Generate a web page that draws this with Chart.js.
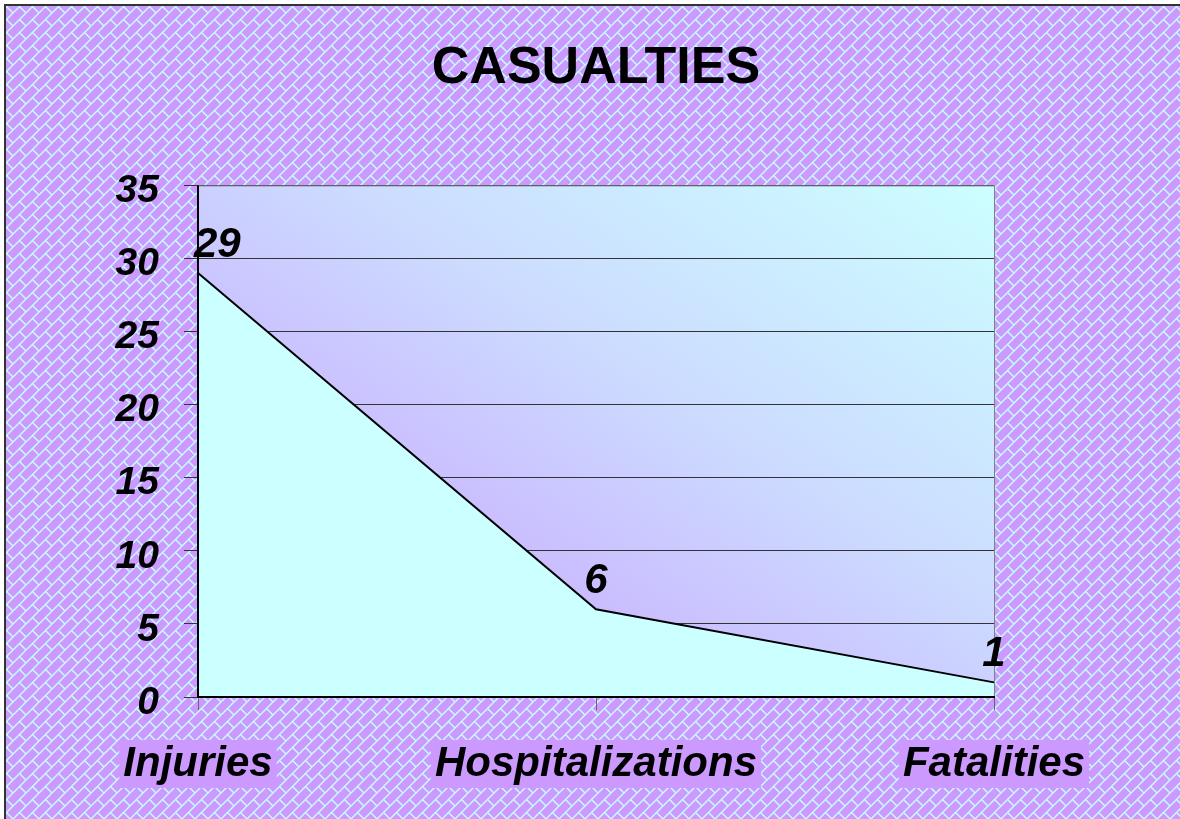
<!DOCTYPE html>
<html>
<head>
<meta charset="utf-8">
<title>Casualties</title>
<script src="https://cdn.jsdelivr.net/npm/chart.js@4/dist/chart.umd.min.js"></script>
<style>
  html, body { margin: 0; padding: 0; background: #fff; }
  #wrap { width: 1180px; height: 819px; }
</style>
</head>
<body>
<div id="wrap"><canvas id="casualtiesChart" width="1180" height="819"></canvas></div>
<script>
// data
const categorias = ['Injuries', 'Hospitalizations', 'Fatalities'];
const valores = [29, 6, 1];
const yMin = 0;
const yMax = 35;
const yStep = 5;
const titulo = 'CASUALTIES';

const fonte = "'Liberation Sans', Arial, sans-serif";

// diagonal brick fill for the background
function criarPadrao(ctx) {
    const s = 13;
    const tile = document.createElement('canvas');
    tile.width = s;
    tile.height = s;
    const t = tile.getContext('2d');
    t.fillStyle = '#CC99FF';
    t.fillRect(0, 0, s, s);
    t.strokeStyle = '#C6FBFF';
    t.lineWidth = 1.5;
    for (let dx = -s; dx <= s; dx += s) {
        for (let dy = -s; dy <= s; dy += s) {
            t.beginPath();
            t.moveTo(dx, dy + s);
            t.lineTo(dx + s, dy);
            t.moveTo(dx + s / 2, dy + s / 2);
            t.lineTo(dx + s, dy + s);
            t.stroke();
        }
    }
    return ctx.createPattern(tile, 'repeat');
}

const fundoPlugin = {
    id: 'fundo',
    beforeDraw(chart) {
        const { ctx, chartArea: a, width, height } = chart;
        ctx.save();
        ctx.fillStyle = '#fff';
        ctx.fillRect(0, 0, width, height);
        ctx.fillStyle = criarPadrao(ctx);
        ctx.fillRect(5, 5, width - 5, height - 5);
        // frame on top and left
        ctx.strokeStyle = '#333';
        ctx.lineWidth = 2;
        ctx.beginPath();
        ctx.moveTo(5, height);
        ctx.lineTo(5, 5);
        ctx.lineTo(width, 5);
        ctx.stroke();
        // plot area gradient, purple corner bottom-left, cyan corner top-right
        const w = a.right - a.left;
        const h = a.bottom - a.top;
        const k = 2 * w * h / (w * w + h * h);
        const g = ctx.createLinearGradient(a.left, a.bottom, a.left + h * k, a.bottom - w * k);
        g.addColorStop(0, '#C2A4FF');
        g.addColorStop(0.35, '#CABEFF');
        g.addColorStop(0.6, '#CCDCFF');
        g.addColorStop(1, '#CCFFFF');
        ctx.fillStyle = g;
        ctx.fillRect(a.left, a.top, w, h);
        ctx.restore();
    },
    afterDatasetsDraw(chart) {
        const { ctx, chartArea: a } = chart;
        ctx.save();
        ctx.strokeStyle = '#808080';
        ctx.lineWidth = 1;
        ctx.beginPath();
        ctx.moveTo(a.left, a.top + 0.5);
        ctx.lineTo(a.right + 0.5, a.top + 0.5);
        ctx.lineTo(a.right + 0.5, a.bottom);
        ctx.stroke();
        ctx.strokeStyle = '#000';
        ctx.lineWidth = 2;
        ctx.beginPath();
        ctx.moveTo(a.left, a.top);
        ctx.lineTo(a.left, a.bottom);
        ctx.lineTo(a.right + 1, a.bottom);
        ctx.stroke();
        ctx.restore();
    }
};

// value labels above each point
const rotulosPlugin = {
    id: 'rotulos',
    afterDraw(chart) {
        const { ctx } = chart;
        const meta = chart.getDatasetMeta(0);
        ctx.save();
        ctx.font = `italic bold 42px ${fonte}`;
        ctx.fillStyle = '#000';
        ctx.textBaseline = 'alphabetic';
        meta.data.forEach((p, i) => {
            ctx.textAlign = i === 0 ? 'left' : 'center';
            const x = i === 0 ? p.x - 4 : p.x;
            ctx.fillText(String(valores[i]), x, p.y - 16);
        });
        ctx.restore();
    }
};

const ctx = document.getElementById('casualtiesChart').getContext('2d');

new Chart(ctx, {
    type: 'line',
    data: {
        labels: categorias,
        datasets: [{
            label: 'Casualties',
            data: valores,
            borderColor: '#000',
            borderWidth: 2,
            backgroundColor: '#CCFFFF',
            fill: 'origin',
            tension: 0,
            pointRadius: 0,
        }],
    },
    options: {
        responsive: false,
        animation: false,
        layout: {
            padding: { left: 0, right: 186, top: 0, bottom: 0 },
        },
        plugins: {
            legend: { display: false },
            tooltip: { enabled: false },
            title: {
                display: true,
                fullSize: false,
                text: titulo,
                color: '#000',
                font: { family: fonte, size: 52, weight: 'bold', lineHeight: 1.2 },
                padding: { top: 37, bottom: 86 },
            },
        },
        scales: {
            x: {
                offset: false,
                border: { display: false },
                grid: {
                    drawOnChartArea: false,
                    drawTicks: true,
                    tickLength: 13,
                    color: '#666',
                },
                ticks: {
                    color: '#000',
                    padding: 33,
                    autoSkip: false,
                    maxRotation: 0,
                    font: { family: fonte, size: 42, weight: 'bold', style: 'italic', lineHeight: 1 },
                    showLabelBackdrop: true,
                    backdropColor: '#CC99FF',
                    backdropPadding: { x: 4, y: 3 },
                },
                afterFit(scale) { scale.height = 122; },
            },
            y: {
                min: yMin,
                max: yMax,
                border: { display: false },
                grid: {
                    color: '#333',
                    lineWidth: 1,
                    tickLength: 14,
                },
                ticks: {
                    stepSize: yStep,
                    color: '#000',
                    padding: 25,
                    labelOffset: 6,
                    font: { family: fonte, size: 39, weight: 'bold', style: 'italic' },
                },
                afterFit(scale) { scale.width = 198; },
            },
        },
    },
    plugins: [fundoPlugin, rotulosPlugin],
});
</script>
</body>
</html>
